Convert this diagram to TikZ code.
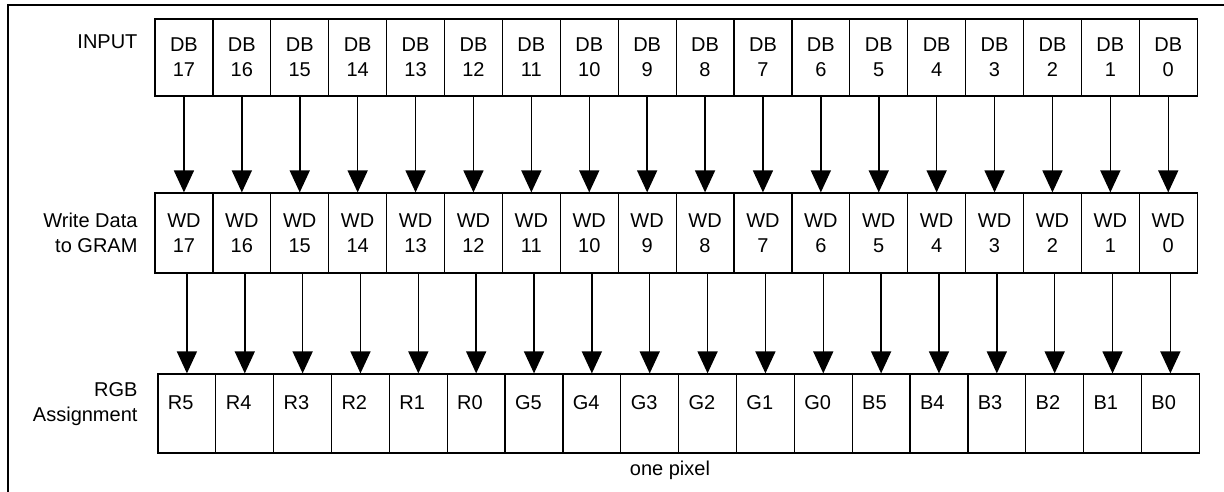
\documentclass[tikz,border=0pt]{standalone}
\usepackage{fontspec}
\setmainfont{Liberation Sans}
\usetikzlibrary{calc}
\usetikzlibrary{arrows.meta}
\tikzset{
	bitcell/.style={
			draw, line width=1.2pt, inner sep=0pt, align=center,
			minimum width=57.9pt, minimum height=#1
		},
	rgbcell/.style={
			draw, line width=1.2pt, inner ysep=0pt, inner xsep=10pt, align=left,
			text width=37.9pt, minimum height=79pt, text height=35.5pt, text depth=43.5pt
		},
	bitarrow/.style={-{Triangle[width=20pt,length=22pt]}, line width=1.5pt}
}

\begin{document}
\begin{tikzpicture}[x=1pt, y=-1pt, font=\fontsize{20}{25}\selectfont]
			\useasboundingbox (0,0) rectangle (1224,492);
			\draw[line width=2pt] (8,492) -- (8,5) -- (1224,5);

			\foreach \i in {0,...,17}{
				\pgfmathtruncatemacro{\b}{17-\i}
				\node[bitcell=77pt] (db\b) at ({155+57.9*(\i+0.5)},57.5) {DB\\\b};
				\node[bitcell=80pt] (wd\b) at ({155+57.9*(\i+0.5)},233) {WD\\\b};
				\draw[bitarrow] (db\b) -- (wd\b);
			}
			\foreach \lbl [count=\i from 0] in {R5,R4,R3,R2,R1,R0,G5,G4,G3,G2,G1,G0,B5,B4,B3,B2,B1,B0}{
				\pgfmathtruncatemacro{\b}{17-\i}
				\node[rgbcell] (rgb\lbl) at ({158+57.85*(\i+0.5)},413.5) {\lbl};
				\draw[bitarrow] (rgb\lbl.north |- wd\b.south) -- (rgb\lbl);
			}

			\node[anchor=east, align=right] (inlbl) at (141,42) {INPUT};
			\node[anchor=east, align=right] (wdlbl) at (141,232.5) {Write Data\\to GRAM};
			\node[anchor=east, align=right] (rgblbl) at (141,404.5) {RGB\\Assignment};
			\node (pxlbl) at (670,470) {one pixel};
		\end{tikzpicture}
\end{document}
